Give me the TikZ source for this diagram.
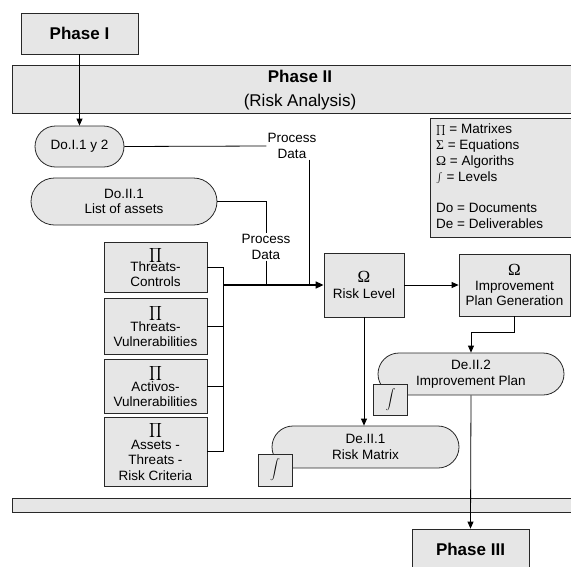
\documentclass[tikz,border=0pt]{standalone}
\usepackage{fontspec}
\setmainfont{Liberation Sans}
\newfontfamily\grk{Liberation Serif}
\usetikzlibrary{arrows.meta,shapes.misc,calc}

\definecolor{boxfill}{RGB}{230,230,230}
\definecolor{boxline}{RGB}{40,40,40}

% large Greek letter used as the algorithm sign
\newcommand{\algsign}{{\grk\fontsize{17}{17}\selectfont Ω}}

\begin{document}
\begin{tikzpicture}[x=1pt,y=-1pt,
  every node/.style={font=\fontsize{13.5}{15.5}\selectfont, inner sep=1pt},
  box/.style={draw=boxline, fill=boxfill, line width=0.8pt, rectangle, align=center},
  doc/.style={draw=boxline, fill=boxfill, line width=0.8pt, rounded rectangle, align=center},
  phase/.style={box, font=\fontsize{17}{20}\selectfont\bfseries},
  mtx/.style={box, minimum width=103pt, inner sep=0pt},
  lvl/.style={box, minimum width=34pt, minimum height=32pt, inner sep=0pt},
  algo/.style={box, inner sep=0pt},
  link/.style={line width=0.8pt, draw=black},
  arr/.style={link, -{Triangle[length=7pt,width=6pt]}},
]
\useasboundingbox (0,0) rectangle (571,566);
\clip (0,0) rectangle (571,566);

% phase boxes and bands
\node[phase, minimum width=117pt, minimum height=41pt] (p1) at (79.5,33.5) {Phase I};
\node[box, minimum width=565pt, minimum height=48pt, anchor=north west] (p2) at (12,65) {};
\node[font=\fontsize{17}{20}\selectfont\bfseries] (p2a) at (300,76) {Phase II};
\node[font=\fontsize{17}{20}\selectfont] (p2b) at (300,102) {(Risk Analysis)};
\node[box, minimum width=565pt, minimum height=14pt, anchor=north west] (p2end) at (12,498) {};
\node[phase, minimum width=117pt, minimum height=41pt] (p3) at (470.5,549.5) {Phase III};

% legend
\node[box, minimum width=147pt, minimum height=119pt, anchor=north west] (leg) at (430,118) {};
\node[align=left, anchor=north west, inner sep=0pt,
      font=\fontsize{13.5}{15.8}\selectfont] (legtxt) at (436,124)
  {$\prod$ = Matrixes\\
   {\grk Σ} = Equations\\
   {\grk Ω} = Algoriths\\
   $\int$ = Levels\\[15.8pt]
   Do = Documents\\
   De = Deliverables};

% input documents
\node[doc, minimum width=91pt, minimum height=41pt] (do1) at (79.5,146.5) {Do.I.1 y 2};
\node[doc, minimum width=188pt, minimum height=47pt] (do2) at (124,201.5) {Do.II.1\\List of assets};
\node[align=center] (pd1) at (292,146) {Process\\Data};
\node[align=center] (pd2) at (266,247) {Process\\Data};

% matrices
\node[mtx, minimum height=50pt] (m1) at (155.5,267) {$\displaystyle\prod$\\[-3pt]Threats-\\Controls};
\node[mtx, minimum height=56pt] (m2) at (155.5,326) {$\displaystyle\prod$\\[-1pt]Threats-\\Vulnerabilities};
\node[mtx, minimum height=54pt] (m3) at (155.5,386) {$\displaystyle\prod$\\[-1pt]Activos-\\Vulnerabilities};
\node[mtx, minimum height=69pt] (m4) at (155.5,451.5) {$\displaystyle\prod$\\Assets -\\Threats -\\Risk Criteria};

% algorithms
\node[algo, minimum width=80pt, minimum height=64pt] (rl) at (364,285) {\algsign\\[1pt]Risk Level};
\node[algo, minimum width=111pt, minimum height=62pt] (ipg) at (514.5,285) {\algsign\\[-1pt]Improvement\\Plan Generation};

% deliverables
\node[doc, minimum width=188pt, minimum height=42pt] (de2) at (471,374) {De.II.2\\Improvement Plan};
\node[doc, minimum width=189pt, minimum height=42pt] (de1) at (365.5,447) {De.II.1\\Risk Matrix};
\node[lvl, minimum height=31pt] (l2) at (390.5,399.5) {$\displaystyle\int$};
\node[lvl] (l1) at (275,470) {$\displaystyle\int$};

% junction points
\coordinate (bus) at (223,285);
\coordinate (v1) at (309,285);

% connectors
\draw[arr] (p1.south) -- (do1.north);
\draw[link] (do1.east) -- (pd1.west);
\draw[link] (pd1.south -| v1) -- (v1);
\draw[link] (do2.east) -| (pd2.north);
\draw[link] (pd2.south) -- (pd2.south |- bus);
\draw[link] (m1.east) -- (m1.east -| bus);
\draw[link] (m2.east) -- (m2.east -| bus);
\draw[link] (m3.east) -- (m3.east -| bus);
\draw[link] (m4.east) -- (m4.east -| bus);
\draw[link] (m1.east -| bus) -- (m4.east -| bus);
\draw[link, line width=1.6pt, -{Triangle[length=8pt,width=7pt]}] (bus) -- (rl.west);
\draw[arr] (rl.east) -- (ipg.west);
\draw[arr] (ipg.south) -- ++(0,16) -| (de2.north);
\draw[arr] (rl.south) -- (rl.south |- de1.north);
\draw[arr] (de2.south) -- (p3.north);
\end{tikzpicture}
\end{document}
